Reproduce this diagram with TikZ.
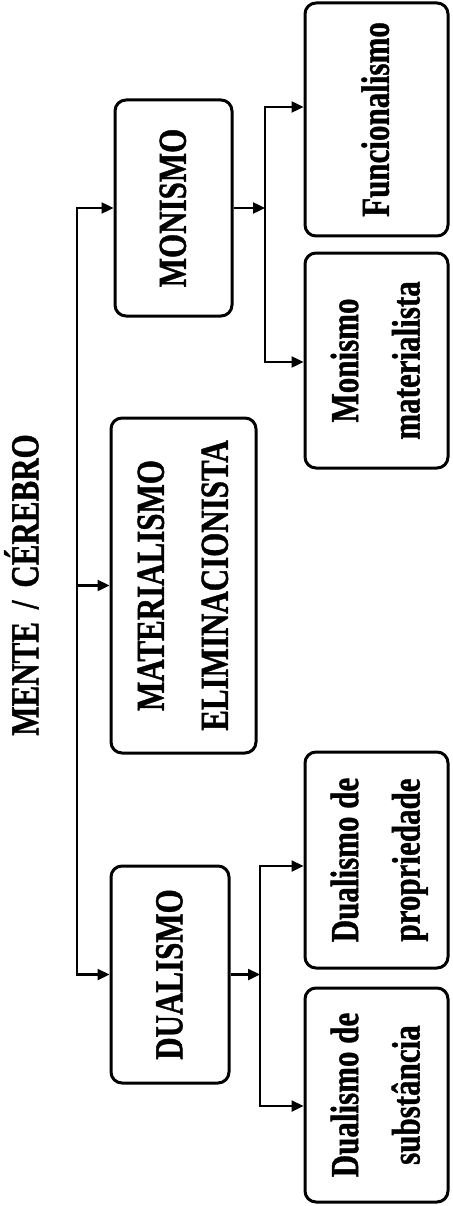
\documentclass[tikz,border=0pt]{standalone}
\usepackage{fontspec}
\setmainfont[BoldFeatures={FakeBold=1.2}]{Liberation Serif}
\usepackage{graphicx}
\usetikzlibrary{arrows.meta}
\newcommand{\vtxt}[1]{\scalebox{1}[1.28]{\begin{tabular}{@{}c@{}}#1\end{tabular}}}
\tikzset{
  box/.style={draw, line width=3pt, rounded corners=11pt, rotate=90, inner sep=0pt,
    font=\bfseries\fontsize{31}{48}\selectfont},
  ttl/.style={rotate=90, inner sep=0pt, font=\bfseries\fontsize{31}{48}\selectfont},
  arr/.style={line width=2.4pt, -{Triangle[length=12pt,width=11pt]}},
}
\begin{document}
\begin{tikzpicture}[x=1pt,y=1pt]
\useasboundingbox[fill=white] (0,0) rectangle (452,-1206);
% title
\node[ttl] (title) at (26,-585) {\vtxt{MENTE \,/\, CÉREBRO}};
% level 1
\node[box, minimum width=216pt, minimum height=117pt] (mon) at (173.5,-208) {\vtxt{MONISMO}};
\node[box, minimum width=335pt, minimum height=145pt] (mat) at (183.5,-585.5) {\vtxt{MATERIALISMO\\[2pt]ELIMINACIONISTA}};
\node[box, minimum width=217pt, minimum height=118pt] (dua) at (170,-974.5) {\vtxt{DUALISMO}};
% level 2
\node[box, minimum width=233pt, minimum height=143pt] (fun) at (376.5,-119.5) {\vtxt{Funcionalismo}};
\node[box, minimum width=215pt, minimum height=143pt] (mmat) at (376.5,-360.5) {\vtxt{Monismo\\materialista}};
\node[box, minimum width=216pt, minimum height=143pt] (dprop) at (376.5,-860) {\vtxt{Dualismo de\\propriedade}};
\node[box, minimum width=214pt, minimum height=143pt] (dsub) at (376.5,-1095) {\vtxt{Dualismo de\\substância}};
% trunk
\coordinate (tx) at (77,0);
\draw[arr] (mat.north -| tx) |- (mon.north);
\draw[arr] (mat.north -| tx) |- (dua.north);
\draw[arr] (mat.north -| tx) -- (mat.north);
% monismo branch
\coordinate (mt) at (265,-107);
\coordinate (mb) at (265,-362);
\draw[arr] (mon.south) -- (mon.south -| mt);
\draw[arr] (mon.south -| mt) |- (fun.north |- mt);
\draw[arr] (mon.south -| mt) |- (mmat.north |- mb);
% dualismo branch
\coordinate (dt) at (260,-866);
\coordinate (db) at (260,-1106);
\draw[arr] (dua.south) -- (dua.south -| dt);
\draw[arr] (dua.south -| dt) |- (dprop.north |- dt);
\draw[arr] (dua.south -| dt) |- (dsub.north |- db);
\end{tikzpicture}
\end{document}
